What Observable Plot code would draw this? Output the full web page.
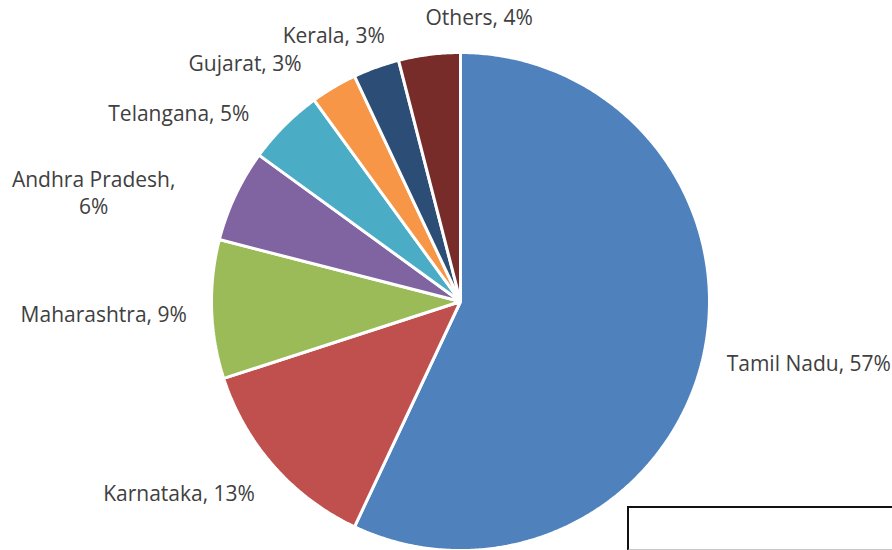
<!DOCTYPE html>
<html>
<head>
<meta charset="utf-8">
<script src="https://cdn.jsdelivr.net/npm/d3@7"></script>
<script src="https://cdn.jsdelivr.net/npm/@observablehq/plot@0.6"></script>
<style>
  html, body { margin: 0; padding: 0; background: #fff; }
  #wrap { position: relative; width: 892px; height: 550px; overflow: hidden; }
  #box { position: absolute; left: 627px; top: 506px; width: 280px; height: 41px;
         border-left: 2px solid #111; border-top: 2px solid #111; border-bottom: 2px solid #c8c8c8; background: #fff; }
</style>
</head>
<body>
<div id="wrap"><div id="box"></div></div>
<script>
// Data
const states = ["Tamil Nadu", "Karnataka", "Maharashtra", "Andhra Pradesh", "Telangana", "Gujarat", "Kerala", "Others"];
const shares = [57, 13, 9, 6, 5, 3, 3, 4];
const colors = ["#4F81BD", "#C0504D", "#9BBB59", "#8064A2", "#4BACC6", "#F79646", "#2C4D75", "#772C2A"];

// Label layout nudges (px) from the default outside anchor
const labelDx = [81, -76, -83, -119, -88, -76, -34, 53];
const labelDy = [1, 10, 3, 7, 4, -3, -10, -14];

const total = d3.sum(shares);
let acc = 0;
const slices = states.map((s, i) => {
  const a0 = acc / total * 2 * Math.PI;
  acc += shares[i];
  const a1 = acc / total * 2 * Math.PI;
  return {name: s, value: shares[i], a0, a1, mid: (a0 + a1) / 2, i};
});

// Polygon points for each wedge (unit radius, angle clockwise from top)
const pts = [];
for (const sl of slices) {
  pts.push({name: sl.name, x: 0, y: 0});
  const n = Math.max(2, Math.ceil((sl.a1 - sl.a0) / (Math.PI / 360)));
  for (let k = 0; k <= n; k++) {
    const a = sl.a0 + (sl.a1 - sl.a0) * k / n;
    pts.push({name: sl.name, x: Math.sin(a), y: Math.cos(a)});
  }
}

const labelR = 1.1;
const labels = slices.map(sl => ({
  name: sl.name,
  text: sl.name === "Andhra Pradesh" ? `${sl.name},\n${sl.value}%` : `${sl.name}, ${sl.value}%`,
  x: labelR * Math.sin(sl.mid),
  y: labelR * Math.cos(sl.mid),
  dx: labelDx[sl.i],
  dy: labelDy[sl.i]
}));

const chart = Plot.plot({
  width: 892,
  height: 550,
  margin: 0,
  x: {domain: [-1, 1], range: [211, 709], axis: null},
  y: {domain: [-1, 1], range: [550, 52], axis: null},
  color: {domain: states, range: colors},
  style: {background: "transparent"},
  marks: [
    Plot.line(pts, {x: "x", y: "y", z: "name", fill: "name", stroke: "white", strokeWidth: 3, strokeLinejoin: "miter", curve: "linear-closed"}),
    ...labels.map(l => Plot.text([l], {x: "x", y: "y", text: "text", dx: l.dx, dy: l.dy,
      fill: "#404040", fontSize: 21, fontFamily: "Open Sans", textAnchor: "middle", lineHeight: 1.3}))
  ]
});
const wrap = document.getElementById("wrap");
chart.style.position = "absolute";
chart.style.left = "0px";
chart.style.top = "0px";
wrap.insertBefore(chart, wrap.firstChild);
</script>
</body>
</html>
